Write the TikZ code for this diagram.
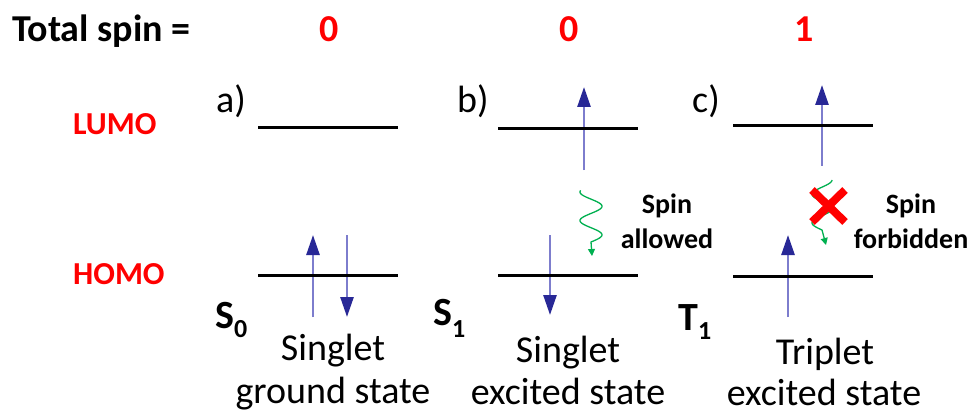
\documentclass[tikz,border=0pt]{standalone}
\usepackage{fontspec}
\setmainfont{Carlito}
\usetikzlibrary{arrows.meta}
\definecolor{spinred}{RGB}{255,0,0}
\definecolor{shaftblue}{RGB}{125,125,205}
\definecolor{headblue}{RGB}{40,40,150}
\definecolor{wavegreen}{RGB}{0,176,80}
\begin{document}
\begin{tikzpicture}[x=1pt,y=-1pt,
  level/.style={line width=3pt, black},
  spinarrow/.style={line width=2.6pt, shaftblue, -{Triangle[length=20pt,width=13pt,color=headblue]}},
  wave/.style={line width=1.3pt, wavegreen, -{Triangle[length=7pt,width=7pt]}},
  bigtxt/.style={inner sep=0pt, font=\fontsize{38}{44}\selectfont},
  boldtxt/.style={inner sep=0pt, font=\fontsize{38}{44}\selectfont\bfseries},
  redtxt/.style={inner sep=0pt, text=spinred, font=\fontsize{38}{44}\selectfont\bfseries},
  orbtxt/.style={inner sep=0pt, text=spinred, font=\fontsize{32}{38}\selectfont\bfseries},
  smalltxt/.style={inner sep=0pt, font=\fontsize{28}{32}\selectfont\bfseries},
  statetxt/.style={inner sep=0pt, font=\fontsize{40}{44}\selectfont\bfseries}]
\useasboundingbox[fill=white] (0,0) rectangle (973,414);

% header
\node[boldtxt, anchor=base west] (total) at (12,42) {Total spin =};
\node[redtxt, anchor=base] (sa) at (329,42) {0};
\node[redtxt, anchor=base] (sb) at (569,42) {0};
\node[redtxt, anchor=base] (sc) at (804,42) {1};

\node[orbtxt, anchor=base west] (lumo) at (73,135) {LUMO};
\node[orbtxt, anchor=base west] (homo) at (73,284) {HOMO};

\node[bigtxt, anchor=base west] (la) at (216,113) {a)};
\node[bigtxt, anchor=base west] (lb) at (457,113) {b)};
\node[bigtxt, anchor=base west] (lc) at (692,113) {c)};

% state symbols
\node[statetxt, anchor=base west] (s0) at (215,328) {S\raisebox{-9pt}{\fontsize{26}{28}\selectfont 0}};
\node[statetxt, anchor=base west] (s1) at (433,325) {S\raisebox{-12pt}{\fontsize{26}{28}\selectfont 1}};
\node[statetxt, anchor=base west] (t1) at (678,330) {T\raisebox{-9pt}{\fontsize{26}{28}\selectfont 1}};

% captions
\node[bigtxt, anchor=base] (capa1) at (333,360) {Singlet};
\node[bigtxt, anchor=base] (capa2) at (333,403) {ground state};
\node[bigtxt, anchor=base] (capb1) at (568,362) {Singlet};
\node[bigtxt, anchor=base] (capb2) at (568,404) {excited state};
\node[bigtxt, anchor=base] (capc1) at (825,364) {Triplet};
\node[bigtxt, anchor=base] (capc2) at (824,405) {excited state};

\node[smalltxt, anchor=base] (allow1) at (667,213) {Spin};
\node[smalltxt, anchor=base] (allow2) at (667,248) {allowed};
\node[smalltxt, anchor=base] (forb1) at (911,213) {Spin};
\node[smalltxt, anchor=base] (forb2) at (911,248) {forbidden};

% arrow coordinates
\coordinate (aus) at (313,317); \coordinate (aue) at (313,235);
\coordinate (ads) at (347,235); \coordinate (ade) at (347,317);
\coordinate (bus) at (584,170); \coordinate (bue) at (584,87);
\coordinate (bds) at (550,235); \coordinate (bde) at (550,315);
\coordinate (cus) at (822,166); \coordinate (cue) at (822,85);
\coordinate (cls) at (788,317); \coordinate (cle) at (788,235);

\draw[spinarrow] (aus) -- (aue);
\draw[spinarrow] (ads) -- (ade);
\draw[spinarrow] (bus) -- (bue);
\draw[spinarrow] (bds) -- (bde);
\draw[spinarrow] (cus) -- (cue);
\draw[spinarrow] (cls) -- (cle);

% levels
\coordinate (aL1) at (258,128); \coordinate (aL2) at (398,128);
\coordinate (aH1) at (258,275); \coordinate (aH2) at (398,275);
\coordinate (bL1) at (498,129); \coordinate (bL2) at (638,129);
\coordinate (bH1) at (498,275); \coordinate (bH2) at (638,275);
\coordinate (cL1) at (733,126); \coordinate (cL2) at (873,126);
\coordinate (cH1) at (733,276); \coordinate (cH2) at (873,276);
\draw[level] (aL1) -- (aL2);
\draw[level] (aH1) -- (aH2);
\draw[level] (bL1) -- (bL2);
\draw[level] (bH1) -- (bH2);
\draw[level] (cL1) -- (cL2);
\draw[level] (cH1) -- (cH2);

% wavy transitions
\coordinate (btip) at (592,256);
\coordinate (ctip) at (826,245);
\draw[wave] plot[domain=-20:630, samples=90] ({591-11*cos(\x)}, {192+\x/630*50}) -- (btip);
\draw[wave] plot[domain=0:630, samples=90] ({822+10*cos(\x)}, {180+\x/630*50}) -- (ctip);

% forbidden cross
\coordinate (x1) at (812,190); \coordinate (x2) at (845,222);
\coordinate (x3) at (845,190); \coordinate (x4) at (812,222);
\draw[spinred, line width=8pt] (x1) -- (x2);
\draw[spinred, line width=8pt] (x3) -- (x4);
\end{tikzpicture}
\end{document}
